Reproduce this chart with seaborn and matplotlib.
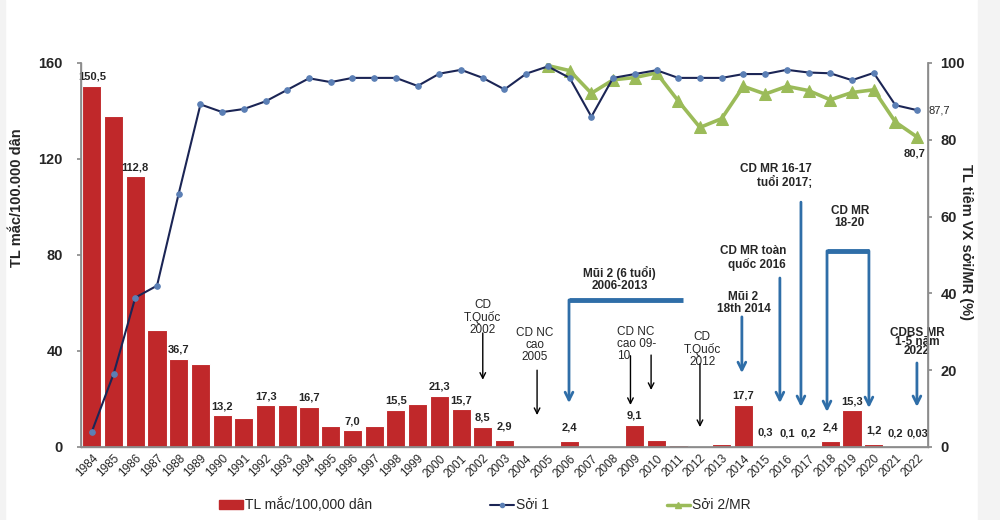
import numpy as np
import pandas as pd
import matplotlib
matplotlib.use("Agg")
import matplotlib.pyplot as plt
import seaborn as sns
from matplotlib.patches import Patch, Rectangle
from matplotlib.lines import Line2D

# ---------------- data ----------------
years = list(range(1984, 2023))
incidence = [150.5, 138.0, 112.8, 48.7, 36.7, 34.6, 13.2, 12.0, 17.3, 17.3,
             16.7, 8.7, 7.0, 8.7, 15.5, 17.8, 21.3, 15.7, 8.5, 2.9,
             0.0, 0.5, 2.4, 0.0, 0.0, 9.1, 2.8, 0.8, 0.3, 1.2,
             17.7, 0.3, 0.1, 0.2, 2.4, 15.3, 1.2, 0.2, 0.03]
labeled_years = [1984, 1986, 1988, 1990, 1992, 1994, 1996, 1998, 2000, 2001,
                 2002, 2003, 2006, 2009, 2014, 2015, 2016, 2017, 2018, 2019,
                 2020, 2021, 2022]
soi1 = [4.0, 19.0, 38.9, 42.0, 66.0, 89.2, 87.2, 88.0, 90.0, 93.0,
        96.0, 95.0, 96.1, 96.1, 96.1, 94.0, 97.2, 98.2, 96.1, 93.1,
        97.2, 99.1, 96.1, 86.0, 96.1, 97.1, 98.1, 96.1, 96.1, 96.1,
        97.1, 97.1, 98.2, 97.5, 97.3, 95.5, 97.4, 89.0, 87.7]
soi2_years = list(range(2005, 2023))
soi2 = [99.3, 98.0, 92.1, 95.6, 96.2, 97.4, 90.1, 83.2, 85.5, 93.9,
        91.9, 93.9, 92.8, 90.4, 92.3, 93.0, 84.6, 80.7]

left_label = "TL mắc/100.000 dân"
right_label = "TL tiêm VX sởi/MR (%)"
legend_labels = ["TL mắc/100,000 dân", "Sởi 1", "Sởi 2/MR"]

# ---------------- style ----------------
sns.set_theme(style="white")
plt.rcParams["font.family"] = ["Liberation Sans", "DejaVu Sans"]

RED = "#C0282A"
NAVY = "#1B2555"
MARK = "#5B7FB5"
GREEN = "#9BBB59"
BLUE = "#2F6EA8"
GREY = "#8C8C8C"

fig = plt.figure(figsize=(10, 5.2), dpi=100)
fig.patch.set_facecolor("white")
fig.patches.append(Rectangle((0.978, 0), 0.022, 1, transform=fig.transFigure,
                             color="#F3F3F3", zorder=-10))
fig.patches.append(Rectangle((0, 0), 0.005, 1, transform=fig.transFigure,
                             color="#F3F3F3", zorder=-10))
ax = fig.add_axes([0.081, 0.1404, 0.847, 0.7386])

df = pd.DataFrame({"year": [str(y) for y in years], "inc": incidence})
sns.barplot(data=df, x="year", y="inc", color=RED, saturation=1, width=0.88,
            edgecolor="white", linewidth=0.8, ax=ax)
ax.set_xlim(-0.5, len(years) - 0.5)
ax.set_ylim(0, 160)
ax.set_yticks([0, 40, 80, 120, 160])
ax.set_xlabel("")
ax.set_ylabel(left_label, fontsize=10.5, fontweight="bold")
ax.yaxis.set_label_coords(-0.067, 0.648)
for lab in ax.get_yticklabels():
    lab.set_fontweight("bold")
ax.tick_params(axis="y", labelsize=10.5, length=3, color=GREY, pad=10)
ax.tick_params(axis="x", labelsize=8.5, length=3, color=GREY, pad=1)
plt.setp(ax.get_xticklabels(), rotation=45, ha="right", rotation_mode="anchor")
for s in ["top"]:
    ax.spines[s].set_visible(False)
for s in ["left", "bottom", "right"]:
    ax.spines[s].set_color(GREY)
    ax.spines[s].set_linewidth(1.0)

# bar value labels
for i, (y, v) in enumerate(zip(years, incidence)):
    if y in labeled_years:
        txt = str(v).replace(".", ",")
        off = 3 if v > 3 else 6
        ax.annotate(txt, (i, v), xytext=(0, off), textcoords="offset points",
                    ha="center", va="bottom", fontsize=8, fontweight="bold")

# ---------------- lines on right axis ----------------
ax2 = ax.twinx()
d1 = pd.DataFrame({"x": np.arange(len(years)), "v": soi1})
d2 = pd.DataFrame({"x": [years.index(y) for y in soi2_years], "v": soi2})
sns.lineplot(data=d1, x="x", y="v", ax=ax2, color=NAVY, linewidth=1.5,
             marker="o", markersize=4, markerfacecolor=MARK,
             markeredgecolor=MARK, zorder=3)
sns.lineplot(data=d2, x="x", y="v", ax=ax2, color=GREEN, linewidth=2.6,
             marker="^", markersize=8, markerfacecolor=GREEN,
             markeredgecolor=GREEN, zorder=2)
ax2.set_ylim(0, 100)
ax2.set_xlim(-0.5, len(years) - 0.5)
ax2.set_yticks([0, 20, 40, 60, 80, 100])
ax2.set_xlabel("")
ax2.set_ylabel(right_label, fontsize=10.5, fontweight="bold", rotation=-90,
               va="center")
ax2.yaxis.set_label_coords(1.045, 0.534)
for lab in ax2.get_yticklabels():
    lab.set_fontweight("bold")
ax2.tick_params(axis="y", labelsize=10.5, length=3, color=GREY, pad=6)
ax2.spines["top"].set_visible(False)
for s in ["left", "bottom", "right"]:
    ax2.spines[s].set_color(GREY)
ax2.grid(False)
ax.grid(False)

last = len(years) - 1
ax2.annotate(str(soi1[-1]).replace(".", ","), (last, soi1[-1]), xytext=(8, 0),
             textcoords="offset points", ha="left", va="center", fontsize=8)
ax2.annotate(str(soi2[-1]).replace(".", ","), (last, soi2[-1]), xytext=(-2, -8),
             textcoords="offset points", ha="center", va="top", fontsize=8,
             fontweight="bold")

# ---------------- annotations (left-axis data coords) ----------------
FS = 8.5

def arrow(x, y0, y1, color="black", lw=1.0, ms=10):
    ax.annotate("", xy=(x, y1), xytext=(x, y0),
                arrowprops=dict(arrowstyle="->", color=color, lw=lw,
                                mutation_scale=ms, shrinkA=0, shrinkB=0))

# black ones
ax.text(18.0, 54, "CD\nT.Quốc\n2002", ha="center", va="center", fontsize=FS,
        linespacing=1.0)
arrow(18.0, 47.5, 28)
ax.text(20.4, 42.5, "CD NC\ncao\n2005", ha="center", va="center", fontsize=FS,
        linespacing=1.0)
arrow(20.5, 32, 13.3)
ax.text(24.2, 43, "CD NC\ncao 09-\n10", ha="left", va="center", fontsize=FS,
        linespacing=1.0)
arrow(24.8, 38, 17.5)
arrow(25.75, 38.3, 23.75)
ax.text(28.1, 40.8, "CD\nT.Quốc\n2012", ha="center", va="center", fontsize=FS,
        linespacing=1.0)
arrow(28.0, 34.6, 8.3)

# blue ones
ax.text(24.3, 70, "Mũi 2 (6 tuổi)\n2006-2013", ha="center", va="center",
        fontsize=FS, fontweight="bold", linespacing=1.05)
ax.plot([21.97, 27.2], [61.25, 61.25], color=BLUE, lw=3.5, solid_capstyle="butt")
arrow(21.97, 61.25, 18.3, color=BLUE, lw=2.0, ms=14)

ax.text(30.0, 60, "Mũi 2\n18th 2014", ha="center", va="center", fontsize=FS,
        fontweight="bold", linespacing=0.95)
arrow(29.93, 54.2, 30.8, color=BLUE, lw=2.0, ms=14)

ax.text(31.96, 78.75, "CD MR toàn\nquốc 2016", ha="right", va="center",
        fontsize=FS, fontweight="bold", linespacing=1.1, multialignment="right")
arrow(31.68, 70.4, 18.3, color=BLUE, lw=2.0, ms=14)

ax.text(33.15, 113, "CD MR 16-17\ntuổi 2017;", ha="right", va="center",
        fontsize=FS, fontweight="bold", linespacing=1.1, multialignment="right")
arrow(32.65, 102, 16.7, color=BLUE, lw=2.0, ms=14)

ax.text(34.9, 95.8, "CD MR\n18-20", ha="center", va="center", fontsize=FS,
        fontweight="bold", linespacing=1.1)
ax.plot([33.85, 35.78], [81.7, 81.7], color=BLUE, lw=3.5, solid_capstyle="butt")
arrow(33.85, 81.7, 14.6, color=BLUE, lw=2.0, ms=14)
arrow(35.78, 81.7, 16.25, color=BLUE, lw=2.0, ms=14)

ax.text(38.0, 43.75, "CDBS MR\n1-5 năm\n2022", ha="center", va="center",
        fontsize=FS, fontweight="bold", linespacing=0.7)
arrow(37.99, 35, 16.7, color=BLUE, lw=2.0, ms=14)

# ---------------- legend ----------------
handles = [Patch(facecolor=RED, edgecolor=RED),
           Line2D([], [], color=NAVY, lw=1.5, marker="o", markersize=3,
                  markerfacecolor=MARK, markeredgecolor=MARK),
           Line2D([], [], color=GREEN, lw=2.5, marker="^", markersize=5,
                  markerfacecolor=GREEN, markeredgecolor=GREEN)]
fig.legend(handles, legend_labels, loc="center", bbox_to_anchor=(0.485, 0.029),
           ncol=3, frameon=False, fontsize=10, handlelength=1.7,
           handletextpad=0.15, columnspacing=8.5, handleheight=0.6)

fig.savefig("out.png", dpi=100, facecolor=fig.get_facecolor())
